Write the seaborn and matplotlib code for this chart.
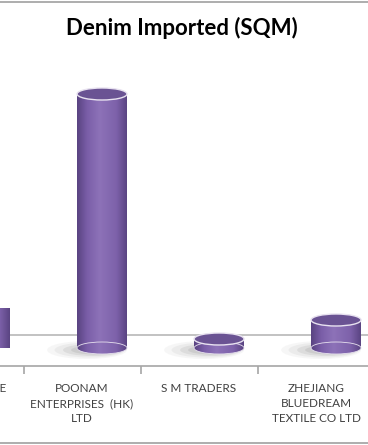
import numpy as np
import pandas as pd
import seaborn as sns
import matplotlib
matplotlib.use("Agg")
import matplotlib.pyplot as plt
from matplotlib.patches import Ellipse, Rectangle
from matplotlib.colors import LinearSegmentedColormap
from matplotlib.lines import Line2D

# ---- data ----
categories = ["DENIM HOUSE", "POONAM\nENTERPRISES  (HK)\nLTD", "S M TRADERS",
              "ZHEJIANG\nBLUEDREAM\nTEXTILE CO LTD"]
values = [40, 254, 9, 28]   # relative import volume (SQM, scale unknown)
title = "Denim Imported (SQM)"

sns.set_theme(style="white")
plt.rcParams['font.family'] = ['Lato', 'DejaVu Sans']

W, H = 368, 445
fig = plt.figure(figsize=(W / 100, H / 100), dpi=100)
fig.patch.set_facecolor("white")
fig.patch.set_edgecolor("white")
fig.patch.set_linewidth(0)

def frac_box(x0, y_top, x1, y_bot):
    return [x0 / W, 1 - y_bot / H, (x1 - x0) / W, (y_bot - y_top) / H]

xlim = (0.299, 3.444)

# floor / label axes
ax = fig.add_axes(frac_box(0, 20, W, 366))
ax.set_xlim(*xlim)
ax.set_ylim(0, 346)
ax.set_facecolor("none")
for s in ["top", "right", "left"]:
    ax.spines[s].set_visible(False)
ax.spines["bottom"].set_color("#a6a6a6")
ax.spines["bottom"].set_linewidth(1.2)
ax.set_yticks([])
ax.set_xticks([0.5, 1.5, 2.5])
ax.set_xticklabels([])
ax.tick_params(axis="x", which="major", length=6, color="#a6a6a6", width=1.2,
               direction="out", bottom=True)
ax.axhline(31, color="#b8b8b8", lw=1.2, zorder=0)

# category labels (y in px units of ax: axis line at 0 == px 366)
for i, lab in enumerate(categories):
    ax.text(i, -17, lab, ha="center", va="top", fontsize=8.5, color="#404040",
            linespacing=1.45, clip_on=False)

# bar axes (shifted for 3D depth)
shift = 20
axb = fig.add_axes(frac_box(shift, 20, W + shift, 366))

df = pd.DataFrame({"company": categories, "value": values})
bw = 0.427
sns.barplot(data=df, x="company", y="value", order=categories, color="#8064A2",
            width=bw, ax=axb, saturation=1)
axb.set_xlim(*xlim)
axb.set_ylim(-18, 328)
axb.axis("off")
axb.set_facecolor("none")

cmap = LinearSegmentedColormap.from_list(
    "cyl", [(0, "#5a4482"), (0.2, "#7a5ea8"), (0.45, "#8d72b8"), (0.8, "#7d61aa"), (1, "#5b4583")])
grad = np.linspace(0, 1, 64).reshape(1, -1)
eh = 12  # ellipse height in px units

for p in list(axb.patches):
    x0, w, h = p.get_x(), p.get_width(), p.get_height()
    xc = x0 + w / 2
    p.set_visible(False)
    # soft shadow, cast to the lower left
    for sw, sh, a, dx in [(1.6, 18, 0.05, -0.3), (1.4, 15, 0.07, -0.25),
                          (1.2, 12, 0.1, -0.18), (1.0, 9, 0.12, -0.12)]:
        axb.add_patch(Ellipse((xc + dx * w, -2), w * sw, sh, color="#606060", alpha=a,
                              lw=0, zorder=1))
    # body
    rect = Rectangle((x0, 0), w, h, transform=axb.transData, facecolor="none", lw=0)
    axb.add_patch(rect)
    im = axb.imshow(grad, cmap=cmap, extent=(x0, x0 + w, -eh / 2, h), aspect="auto",
                    zorder=2, interpolation="bilinear")
    im.set_clip_path(rect)
    bot = Ellipse((xc, 0), w, eh, facecolor="none", lw=0)
    axb.add_patch(bot)
    im2 = axb.imshow(grad, cmap=cmap, extent=(x0, x0 + w, -eh / 2, h), aspect="auto",
                     zorder=2, interpolation="bilinear")
    im2.set_clip_path(bot)
    axb.add_patch(Ellipse((xc, 0), w, eh, facecolor="none", edgecolor="#e6e0ee", lw=0.6,
                          zorder=2.1))
    # top
    axb.add_patch(Ellipse((xc, h), w, eh, facecolor="#6a5393", edgecolor="#e8e2f0", lw=1.0,
                          zorder=3))

axb.set_xlim(*xlim)
axb.set_ylim(-18, 328)

fig.text(182 / W, 1 - 28 / H, title, ha="center", va="center", fontsize=16,
         fontweight="bold", color="#000000")

fig.add_artist(Line2D([0, 1], [1 - 1.5 / H, 1 - 1.5 / H], color="#a0a0a0", lw=1.2))
fig.add_artist(Line2D([0, 1], [1 - 443 / H, 1 - 443 / H], color="#a0a0a0", lw=1.2))

fig.savefig("out.png", dpi=100, facecolor="white")
